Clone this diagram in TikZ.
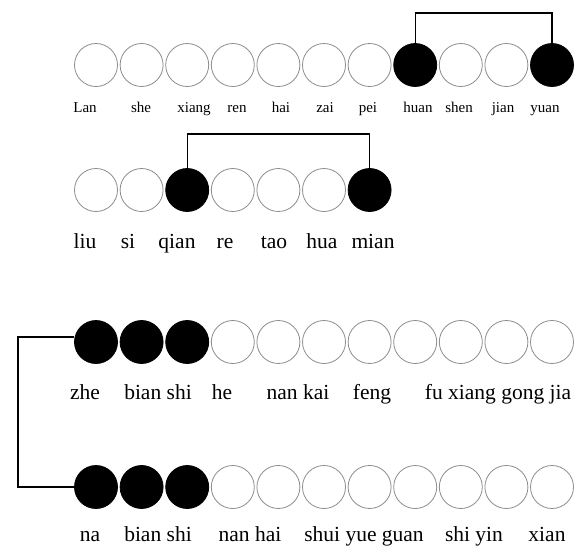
\documentclass[tikz,border=0pt]{standalone}
\usepackage{fontspec}
\setmainfont{Liberation Serif}
\usetikzlibrary{positioning}

\begin{document}
\begin{tikzpicture}[
    x=1pt, y=-1pt,
    every node/.style={font=\fontsize{21.5}{24}\selectfont, inner sep=0pt},
    bead/.style={circle, draw=black!45, line width=0.8pt, minimum size=43pt},
    dark/.style={bead, draw=black, fill=black},
    word/.style={anchor=base},
    small/.style={word, font=\fontsize{15}{17}\selectfont},
    link/.style={draw=black, line width=1.3pt}
]
\useasboundingbox (0,0) rectangle (587,552);

% row 1
\foreach \s [count=\i] in {bead,bead,bead,bead,bead,bead,bead,dark,bead,bead,dark}
  \node[\s] (a\i) at ({96+45.6*(\i-1)},65) {};
\foreach \w/\x [count=\i] in {Lan/85,she/141,xiang/194,ren/237,hai/281,zai/325,pei/368,huan/418,shen/459,jian/503,yuan/545}
  \node[small] (la\i) at (\x,112) {\w};

% row 2
\foreach \s [count=\i] in {bead,bead,dark,bead,bead,bead,dark}
  \node[\s] (b\i) at ({96+45.6*(\i-1)},190) {};
\foreach \w/\x [count=\i] in {liu/85,si/128,qian/177,re/225,tao/274,hua/322,mian/373}
  \node[word] (lb\i) at (\x,248) {\w};

% row 3
\foreach \s [count=\i] in {dark,dark,dark,bead,bead,bead,bead,bead,bead,bead,bead}
  \node[\s] (c\i) at ({96+45.6*(\i-1)},342) {};
\foreach \w/\x [count=\i] in {zhe/85,bian shi/158,he/222,nan kai/298,feng/372,fu xiang gong jia/498}
  \node[word] (lc\i) at (\x,399) {\w};

% row 4
\foreach \s [count=\i] in {dark,dark,dark,bead,bead,bead,bead,bead,bead,bead,bead}
  \node[\s] (d\i) at ({96+45.6*(\i-1)},487) {};
\foreach \w/\x [count=\i] in {na/90,bian shi/158,nan hai/250,shui yue guan/364,shi yin/474,xian/547}
  \node[word] (ld\i) at (\x,541) {\w};

% brackets
\coordinate (topa) at (0,13);
\coordinate (topb) at (0,134);
\coordinate (side) at (18,0);
\draw[link] (a8.north) -- (a8.north |- topa) -- (a11.north |- topa) -- (a11.north);
\draw[link] (b3.north) -- (b3.north |- topb) -- (b7.north |- topb) -- (b7.north);
\draw[link] ([yshift=5pt]c1.west) -- ([yshift=5pt]c1.west -| side) -- (d1.west -| side) -- (d1.west);
\end{tikzpicture}
\end{document}
